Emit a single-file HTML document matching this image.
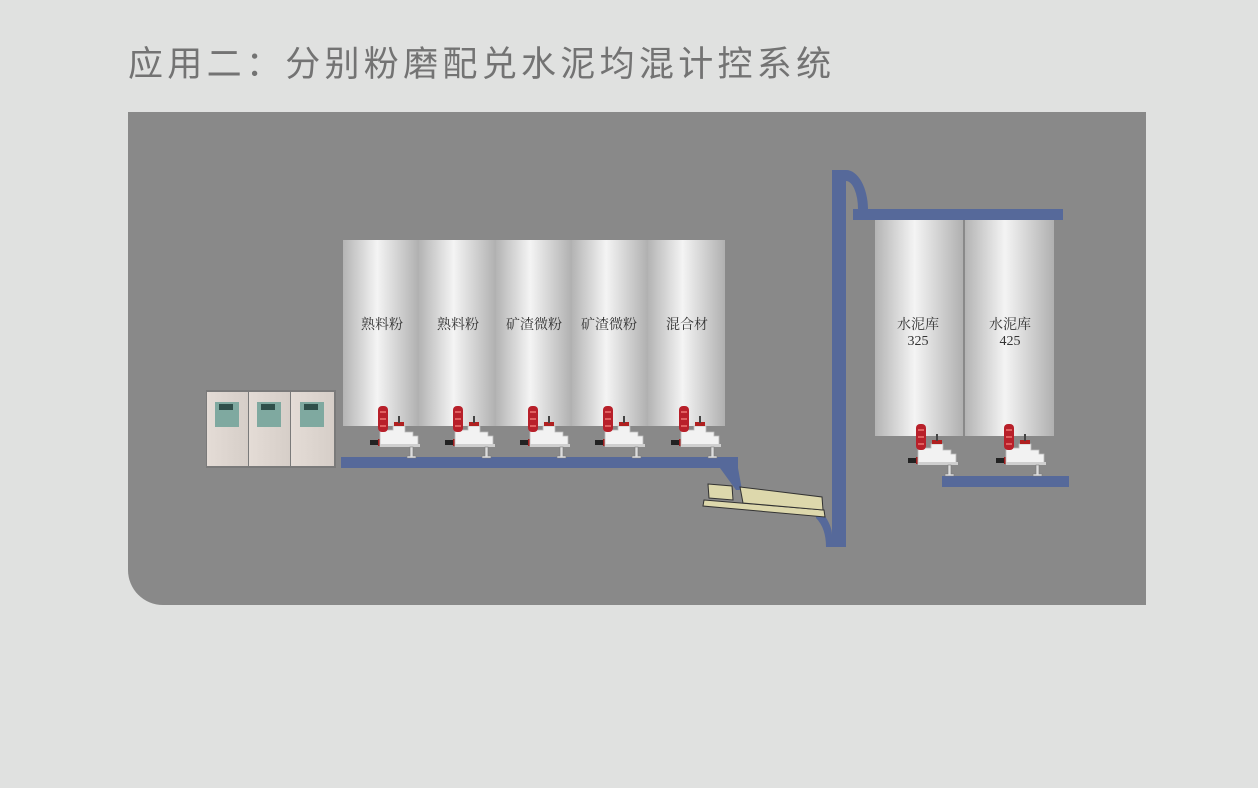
<!DOCTYPE html>
<html><head><meta charset="utf-8"><style>
html,body{margin:0;padding:0;background:#e0e1e0;}
svg{display:block}
</style></head><body>
<svg width="1258" height="788" viewBox="0 0 1258 788" xmlns="http://www.w3.org/2000/svg">
<defs>
<linearGradient id="silo" x1="0" x2="1" y1="0" y2="0">
<stop offset="0" stop-color="#b4b4b4"/><stop offset="0.45" stop-color="#f4f4f4"/><stop offset="1" stop-color="#b0b0b0"/>
</linearGradient>
<linearGradient id="cab" x1="0" x2="1"><stop offset="0" stop-color="#e4dcd6"/><stop offset="1" stop-color="#d6cec8"/></linearGradient>
<g id="feed">
<rect x="-13" y="34" width="13" height="5" fill="#222"/>
<rect x="-5" y="33" width="5" height="7" fill="#a02020"/>
<path d="M-3 24 H10 V20 H22 V26 H30 V30 H35 V40 H-3 Z" fill="#f2f2f2" stroke="#bbb" stroke-width="0.8"/>
<rect x="-3" y="38" width="40" height="3" fill="#cfcfcf"/>
<rect x="11" y="16" width="10" height="4" fill="#b02020"/>
<rect x="15" y="10" width="2" height="7" fill="#444"/>
<rect x="-5" y="0" width="10" height="26" rx="4" fill="#b8202a"/>
<rect x="-3" y="5" width="6" height="2" fill="#e06060"/>
<rect x="-3" y="12" width="6" height="2" fill="#e06060"/>
<rect x="-3" y="19" width="6" height="2" fill="#e06060"/>
<path d="M27 41 V50 H24 V52 H33 V50 H30 V41 Z" fill="#ddd" stroke="#777" stroke-width="0.6"/>
</g>
</defs>
<rect width="1258" height="788" fill="#e0e1e0"/>
<text x="128" y="76" font-family="'Liberation Sans','Noto Sans CJK SC',sans-serif" font-size="35" letter-spacing="4.3" fill="#737373">应用二：分别粉磨配兑水泥均混计控系统</text>
<path d="M128 112 H1146 V605 H163 A35 35 0 0 1 128 570 Z" fill="#898989"/>

<g fill="url(#silo)">
<rect x="343" y="240" width="76" height="186"/>
<rect x="419" y="240" width="77" height="186"/>
<rect x="496" y="240" width="76" height="186"/>
<rect x="572" y="240" width="76" height="186"/>
<rect x="648" y="240" width="77" height="186"/>
<rect x="875" y="220" width="88" height="216"/>
<rect x="965" y="220" width="89" height="216"/>
</g>
<g font-family="'Liberation Serif','Noto Serif CJK SC',serif" font-size="14" fill="#333" text-anchor="middle">
<text x="382" y="329">熟料粉</text>
<text x="458" y="329">熟料粉</text>
<text x="534" y="329">矿渣微粉</text>
<text x="609" y="329">矿渣微粉</text>
<text x="687" y="329">混合材</text>
<text x="918" y="329">水泥库</text>
<text x="918" y="345">325</text>
<text x="1010" y="329">水泥库</text>
<text x="1010" y="345">425</text>
</g>

<g>
<rect x="206" y="390" width="130" height="78" fill="#7a7a7a"/>
<rect x="207" y="392" width="41" height="74" fill="url(#cab)"/>
<rect x="249" y="392" width="41" height="74" fill="url(#cab)"/>
<rect x="291" y="392" width="43" height="74" fill="url(#cab)"/>
<rect x="215" y="402" width="24" height="25" fill="#7fa9a0"/>
<rect x="257" y="402" width="24" height="25" fill="#7fa9a0"/>
<rect x="300" y="402" width="24" height="25" fill="#7fa9a0"/>
<rect x="219" y="404" width="14" height="6" fill="#2f4f4a"/>
<rect x="261" y="404" width="14" height="6" fill="#2f4f4a"/>
<rect x="304" y="404" width="14" height="6" fill="#2f4f4a"/>
</g>

<g fill="#56699a">
<path d="M341 457 H738 V468 L742 490 H736 L720 468 H341 Z"/>
<rect x="853" y="209" width="210" height="11"/>
<rect x="942" y="476" width="127" height="11"/>
<path d="M832 170 H846 A22 40 0 0 1 868 209 H858 A12 28 0 0 0 846 181 V547 H832 Z"/>
<path d="M816 512 L822 512 Q832 525 832 535 V547 H826 Q826 528 816 518 Z"/>
</g>

<g stroke="#333" stroke-width="1" fill="#ddd8ac">
<polygon points="704,500 824,510 825,517 703,506"/>
<polygon points="740,487 822,497 823,510 743,503"/>
<polygon points="708,484 732,486 733,500 709,498"/>
</g>

<use href="#feed" x="383" y="406"/>
<use href="#feed" x="458" y="406"/>
<use href="#feed" x="533" y="406"/>
<use href="#feed" x="608" y="406"/>
<use href="#feed" x="684" y="406"/>
<use href="#feed" x="921" y="424"/>
<use href="#feed" x="1009" y="424"/>
</svg>
</body></html>
